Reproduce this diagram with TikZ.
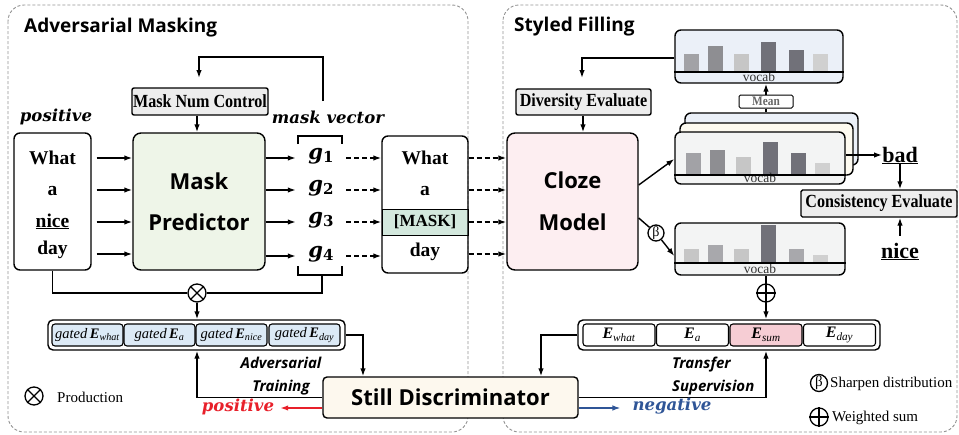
\documentclass[tikz,border=0pt]{standalone}
\usepackage{fontspec}
\setmainfont{Liberation Serif}
\newfontfamily\sansf{Open Sans}
\newfontfamily\dvs{DejaVu Serif}
\newfontfamily\condf[FakeStretch=0.87]{Liberation Serif}
\usetikzlibrary{arrows.meta}
\definecolor{graybox}{HTML}{EDEDED}
\definecolor{mpgreen}{HTML}{EEF5E8}
\definecolor{clozepink}{HTML}{FDEEF1}
\definecolor{cream}{HTML}{FDF8EE}
\definecolor{maskteal}{HTML}{D3E8DD}
\definecolor{gblue}{HTML}{DCEAF6}
\definecolor{esum}{HTML}{F6CDD4}
\definecolor{vblue}{HTML}{EBF0F8}
\definecolor{vcream}{HTML}{FDFAF0}
\definecolor{vgray}{HTML}{F3F4F4}
\definecolor{posred}{HTML}{E8202A}
\definecolor{negblue}{HTML}{2F5597}
\definecolor{barA}{HTML}{A2A2A6}
\definecolor{barB}{HTML}{8E8E92}
\definecolor{barC}{HTML}{C6C6C6}
\definecolor{barD}{HTML}{717179}
\definecolor{barE}{HTML}{D0D0D0}
\definecolor{barF}{HTML}{A8A8AC}
\tikzset{
 ln/.style={line width=1.4pt},
 arr/.style={ln,-{Latex[length=8pt,width=5.5pt]}},
 darr/.style={arr,dash pattern=on 5pt off 3pt},
 box/.style={draw,line width=1.4pt,rounded corners=6pt,inner sep=0pt},
 panel/.style={draw=gray!85,line width=0.9pt,dash pattern=on 3pt off 2pt,rounded corners=16pt},
 ttl/.style={font=\sansf\bfseries\fontsize{19}{22}\selectfont,anchor=west,inner sep=0pt},
 big/.style={font=\sansf\bfseries\fontsize{22}{26}\selectfont,inner sep=0pt},
 word/.style={font=\bfseries\fontsize{19.5}{22}\selectfont,inner sep=0pt,anchor=base},
 lab/.style={font=\condf\bfseries\fontsize{18.5}{20}\selectfont,inner sep=0pt},
 gm/.style={font=\dvs\bfseries\fontsize{21}{24}\selectfont,inner sep=0pt,minimum width=50pt},
 bit/.style={font=\dvs\bfseries\itshape\fontsize{16.5}{20}\selectfont,inner sep=0pt},
 sit/.style={font=\sansf\bfseries\itshape\fontsize{15}{23}\selectfont,inner sep=0pt},
 leg/.style={font=\fontsize{15}{17}\selectfont,inner sep=0pt,anchor=west},
 voc/.style={font=\fontsize{13.5}{14}\selectfont,text=black!80,inner sep=0pt,anchor=base},
 circ/.style={circle,draw,line width=1.3pt,minimum size=18pt,inner sep=0pt,fill=white},
 cell/.style={draw,line width=1.1pt,rounded corners=3pt,minimum height=22pt,inner sep=0pt},
 ecell/.style={cell,minimum width=72pt,font=\fontsize{16}{18}\selectfont},
 gcell/.style={cell,minimum width=71pt,fill=gblue,font=\fontsize{14.5}{16}\selectfont},
}
\newcommand{\Esub}[2]{{\bfseries\itshape #1}\textsubscript{\itshape #2}}
\newcommand{\gsub}[1]{{\itshape g}\raisebox{-3.5pt}{\fontsize{15}{15}\selectfont #1}}
\begin{document}
\begin{tikzpicture}[x=1pt,y=-1pt]
\useasboundingbox (0,0) rectangle (959,434);
% panels
\draw[panel] (8,5) rectangle (468,432);
\draw[panel] (503,5) rectangle (957,432);
\node[ttl] (t1) at (24,28) {Adversarial Masking};
\node[ttl] (t2) at (514,27) {Styled Filling};

% ---- left part
\node[box,fill=graybox,rounded corners=2pt,minimum width=136pt,minimum height=27pt] (mnc) at (200,101.5) {};
\node[lab] (mnct) at (mnc) {Mask Num Control};
\node[bit] (pos) at (56,117) {positive};
\node[bit] (mv) at (328,117) {mask vector};

\node[box,minimum width=77pt,minimum height=137pt] (s1) at (52.5,201.5) {};
\node[word] (w1) at (52.5,164) {What};
\node[word] (w2) at (52.5,195) {a};
\node[word] (w3) at (52.5,227) {\underline{nice}};
\node[word] (w4) at (52.5,254) {day};

\node[box,fill=mpgreen,rounded corners=8pt,minimum width=132pt,minimum height=137pt] (mp) at (199,201.5) {};
\node[big] (mp1) at (199,181) {Mask};
\node[big] (mp2) at (199,222) {Predictor};

% feedback loop to mask num control
\coordinate (fb1) at (323,101);
\coordinate (fbc) at (323,57);
\coordinate (fb2) at (199,78);
\draw[arr] (fb1) -- (fbc) -| (fb2);
\draw[arr] (mnc.south -| 197,0) -- (mp.north -| 197,0);

\foreach \y in {158,190,222,254}{
  \draw[arr,shorten <=5pt] (s1.east |- 0,\y) -- (mp.west |- 0,\y);
}
\node[gm] (g1) at (321,156) {\gsub{1}};
\node[gm] (g2) at (321,188) {\gsub{2}};
\node[gm] (g3) at (321,220) {\gsub{3}};
\node[gm] (g4) at (321,254) {\gsub{4}};
\foreach \g/\y in {g1/158,g2/190,g3/222,g4/256}{
  \draw[arr] (mp.east |- 0,\y) -- (\g.west |- 0,\y);
}
% brackets
\draw[ln] (298,144) -- (298,136) -- (342,136) -- (342,144);
\draw[ln] (298,266) -- (298,275) -- (342,275) -- (342,266);
\coordinate (bb) at (322,275);

% masked sentence
\node[draw,line width=1pt,fill=maskteal,minimum width=86pt,minimum height=26pt,inner sep=0pt,font=\bfseries\fontsize{17}{19}\selectfont] (mk) at (425,222) {[MASK]};
\node[box,minimum width=86pt,minimum height=137pt] (s2) at (425,204.5) {};
\node[word] (v1) at (425,164) {What};
\node[word] (v2) at (425,195) {a};
\node[word] (v4) at (425,256) {day};
\foreach \g/\y in {g1/158,g2/190,g3/222,g4/256}{
  \draw[darr] (\g.east |- 0,\y) -- (s2.west |- 0,\y);
}

% otimes and gated row
\node[circ] (ot) at (197,293) {};
\draw[line width=1.2pt] (ot.45) -- (ot.225) (ot.135) -- (ot.315);
\draw[ln] (s1.south) |- (ot.west);
\draw[ln] (bb) |- (ot.east);

\node[box,rounded corners=5pt,minimum width=297pt,minimum height=30pt] (grow) at (196.5,335) {};
\node[gcell] (ga) at (87.5,335) {\textit{gated}\,\Esub{E}{what}};
\node[gcell] (gb) at (159.5,335) {\textit{gated}\,\Esub{E}{a}};
\node[gcell] (gc) at (231.5,335) {\textit{gated}\,\Esub{E}{nice}};
\node[gcell] (gd) at (304.5,335) {\textit{gated}\,\Esub{E}{day}};
\draw[arr] (ot.south) -- (ot |- grow.north);

% Still discriminator
\node[box,fill=cream,rounded corners=4pt,minimum width=255pt,minimum height=41pt] (still) at (450.5,397.5) {};
\node[big] (stillt) at (still) {Still Discriminator};
\draw[arr] (grow.east) -| (still.north -| 363,0);
\draw[arr] (still.west) -| (ot |- grow.south);
\node[sit,align=center] (adv) at (281,376) {Adversarial\\Training};
\node[bit,text=posred] (postxt) at (238,407) {positive};
\draw[arr,posred,shorten >=6pt] (still.west |- 0,408) -- (postxt.east |- 0,408);

% ---- right part
\node[box,fill=clozepink,rounded corners=8pt,minimum width=131pt,minimum height=137pt] (cloze) at (572.5,201.5) {};
\node[big] (c1) at (572.5,180) {Cloze};
\node[big] (c2) at (572.5,222) {Model};
\foreach \y in {158,190,222,254}{
  \draw[darr] (s2.east |- 0,\y) -- (cloze.west |- 0,\y);
}
\node[box,fill=graybox,rounded corners=2pt,minimum width=135pt,minimum height=26pt] (div) at (583.5,102) {};
\node[lab] (divt) at (div) {Diversity Evaluate};
\draw[arr] (div.south -| 583,0) -- (cloze.north -| 583,0);

% top vocab
\node[box,fill=vblue,minimum width=168pt,minimum height=53pt] (tv) at (759,56.5) {};
\foreach \x/\t/\c in {684/54/barA,708/46/barB,734/54/barC,761/42/barD,789/50/barD,813/54/barE}{
  \fill[\c] (\x,\t) rectangle (\x+15,72);
}
\node[voc] (tvv) at (759,81.5) {vocab};
\draw[line width=2.6pt] (tv.west |- 0,72) -- (tv.east |- 0,72);
\coordinate (dvc) at (582,58);
\coordinate (dve) at (582,78);
\draw[arr] (tv.west |- dvc) -| (dve);

% stack
\node[box,fill=vblue,minimum width=173pt,minimum height=52pt] (vb3) at (771.5,139) {};
\node[box,fill=vcream,minimum width=173pt,minimum height=52pt] (vb2) at (766.5,149) {};
\node[box,fill=vgray,minimum width=170pt,minimum height=52pt] (vb1) at (760,158) {};
\foreach \x/\t/\c in {686/153/barA,710/150/barB,736/157/barC,763/142/barD,791/153/barD,815/163/barE}{
  \fill[\c] (\x,\t) rectangle (\x+15,175);
}
\node[voc] (vbv) at (760,182.5) {vocab};
\draw[line width=2.6pt] (vb1.west |- 0,175) -- (vb1.east |- 0,175);

\node[box,fill=white,line width=1pt,rounded corners=1.5pt,minimum width=54pt,minimum height=13pt,font=\condf\bfseries\fontsize{13}{13}\selectfont,text=black!60] (mean) at (766,101.5) {Mean};
\draw[ln] (vb3.north -| mean) -- (mean.south);
\draw[arr] (mean.north) -- (mean.north |- tv.south);

% bottom vocab
\node[box,fill=vgray,minimum width=170pt,minimum height=52pt] (bv) at (760,249) {};
\foreach \x/\t/\c in {684/249/barC,708/245/barF,734/249/barC,761/225/barD,789/249/barF,813/255/barE}{
  \fill[\c] (\x,\t) rectangle (\x+15,263);
}
\node[voc] (bvv) at (760,273) {vocab};
\draw[line width=2.6pt] (bv.west |- 0,263) -- (bv.east |- 0,263);

\draw[arr] (cloze.east |- 0,185) -- (vb1.west |- 0,159);
\node[circ,minimum size=16pt,font=\fontsize{14}{14}\selectfont] (beta) at (656,233) {β};
\draw[ln] (cloze.east |- 0,218) -- (beta);
\draw[arr] (beta) -- (bv.west |- 0,256);

% bad / nice / consistency
\node[word,font=\bfseries\fontsize{22}{24}\selectfont] (bad) at (900,162) {\underline{bad}};
\draw[arr] (vb1.east |- 0,155) -- (bad.west |- 0,155);
\node[box,fill=graybox,rounded corners=1.5pt,minimum width=156pt,minimum height=27pt] (cons) at (879,203.5) {};
\node[lab] (const) at (cons) {Consistency Evaluate};
\node[word,font=\bfseries\fontsize{22}{24}\selectfont] (nice) at (900,258) {\underline{nice}};
\draw[arr] (bad.south) -- (bad.south |- cons.north);
\draw[arr,shorten <=7pt] (nice.north) -- (nice.north |- cons.south);

% oplus and E row
\node[circ] (op) at (766,293) {};
\draw[line width=1.2pt] (op.north) -- (op.south) (op.west) -- (op.east);
\draw[ln] (op |- bv.south) -- (op.north);
\node[box,rounded corners=5pt,minimum width=302pt,minimum height=30pt] (erow) at (729,335) {};
\node[ecell] (e1) at (619,335) {\Esub{E}{what}};
\node[ecell] (e2) at (692.5,335) {\Esub{E}{a}};
\node[ecell,fill=esum] (e3) at (766,335) {\Esub{E}{sum}};
\node[ecell] (e4) at (839.5,335) {\Esub{E}{day}};
\draw[arr] (op.south) -- (op |- erow.north);
\draw[arr] (erow.west) -| (still.north -| 541,0);
\draw[arr] (still.east) -| (op |- erow.south);
\node[sit,align=left,anchor=west] (tr) at (672,376) {Transfer\\Supervision};
\node[bit,text=negblue] (negtxt) at (672,406) {negative};
\draw[arr,negblue,shorten >=12pt] (still.east |- 0,408) -- (negtxt.west |- 0,408);

% legend
\node[circ] (lo) at (34,396) {};
\draw[line width=1.2pt] (lo.45) -- (lo.225) (lo.135) -- (lo.315);
\node[leg] (lot) at (57,397) {Production};
\node[circ,minimum size=17pt,font=\fontsize{15}{15}\selectfont] (lb) at (819,383) {β};
\node[leg] (lbt) at (830,384) {Sharpen distribution};
\node[circ] (lp) at (819,417) {};
\draw[line width=1.2pt] (lp.north) -- (lp.south) (lp.west) -- (lp.east);
\node[leg] (lpt) at (832,418) {Weighted sum};
\end{tikzpicture}
\end{document}
